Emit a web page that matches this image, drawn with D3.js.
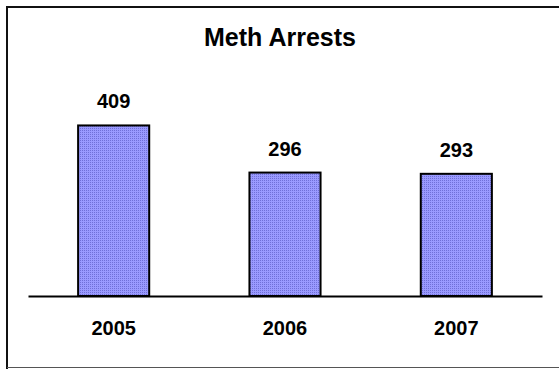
<!DOCTYPE html>
<html><head><meta charset="utf-8">
<script src="https://cdn.jsdelivr.net/npm/d3@7"></script>
<style>html,body{margin:0;padding:0;background:#fff;}svg{display:block;}</style>
</head><body>
<script>
const title = "Meth Arrests";
const categories = ["2005", "2006", "2007"];
const values = [409, 296, 293];

const W = 559, H = 369;
const svg = d3.select("body").append("svg").attr("width", W).attr("height", H);

const defs = svg.append("defs");
const pat = defs.append("pattern").attr("id","dots").attr("width",2).attr("height",2).attr("patternUnits","userSpaceOnUse");
pat.append("rect").attr("width",2).attr("height",2).attr("fill","#9a9aff");
pat.append("rect").attr("width",1).attr("height",1).attr("fill","#7070d8");

// outer frame
svg.append("path").attr("d","M7,372 L7,7 L565,7").attr("fill","none").attr("stroke","#111").attr("stroke-width",2);
svg.append("line").attr("x1",7).attr("x2",565).attr("y1",367.5).attr("y2",367.5).attr("stroke","#555").attr("stroke-width",1);

const x = d3.scaleBand().domain(categories).range([28, 542]).paddingInner(0.585).paddingOuter(0.2925);
const y = d3.scaleLinear().domain([0, 500]).range([296, 87.5]);

const font = "'Liberation Sans', Arial, sans-serif";

svg.append("text").attr("x", 280).attr("y", 46).attr("text-anchor","middle")
  .attr("font-family", font).attr("font-weight","bold").attr("font-size",25).text(title);

svg.selectAll("rect.bar").data(values).enter().append("rect").attr("class","bar")
  .attr("x",(d,i)=>x(categories[i])).attr("width",x.bandwidth())
  .attr("y",d=>y(d)).attr("height",d=>y(0)-y(d))
  .attr("fill","url(#dots)").attr("stroke","#000").attr("stroke-width",2);

svg.selectAll("text.val").data(values).enter().append("text").attr("class","val")
  .attr("x",(d,i)=>x(categories[i])+x.bandwidth()/2).attr("y",d=>y(d)-17)
  .attr("text-anchor","middle").attr("font-family",font).attr("font-weight","bold").attr("font-size",20)
  .text(d=>d);

const axis = d3.axisBottom(x).tickSize(0).tickPadding(0);
const gx = svg.append("g").attr("transform","translate(0,296)").call(axis);
gx.select(".domain").attr("stroke","#000").attr("stroke-width",2);
gx.selectAll(".tick text").attr("dy",0).attr("y",39).attr("font-family",font).attr("font-weight","bold").attr("font-size",20).attr("fill","#000");
</script>
</body></html>
